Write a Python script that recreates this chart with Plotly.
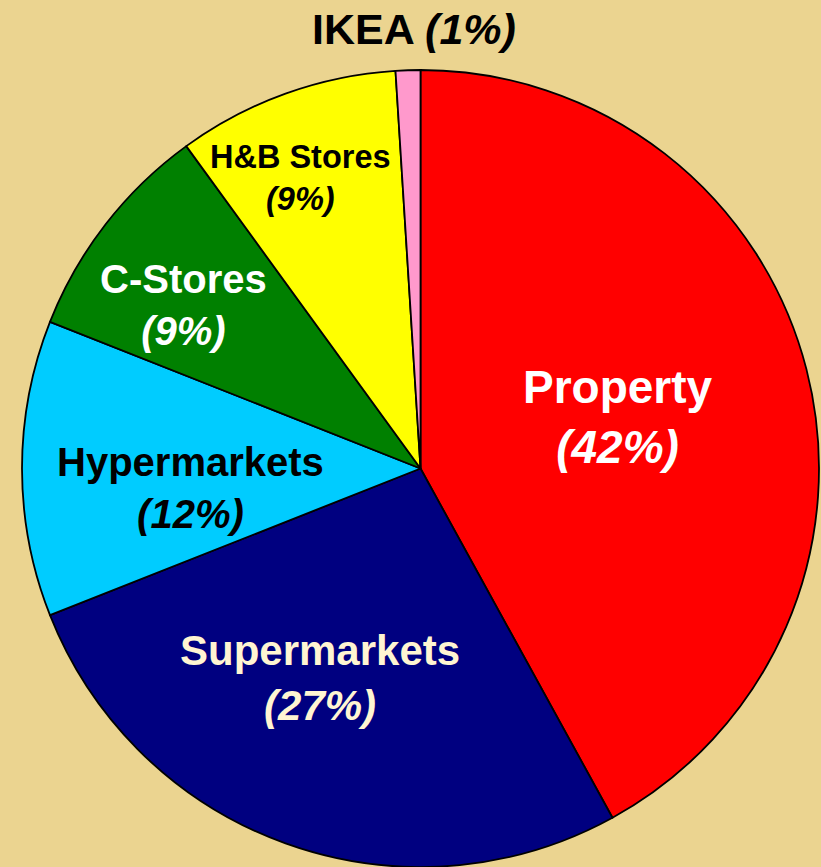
import plotly.graph_objects as go

labels = ["Property", "Supermarkets", "Hypermarkets", "C-Stores", "H&B Stores", "IKEA"]
values = [42, 27, 12, 9, 9, 1]
colors = ["#FF0000", "#000080", "#00CCFF", "#008000", "#FFFF00", "#FF99CC"]
text_colors = ["#FFFFFF", "#FFF5D2", "#000000", "#FFFFFF", "#000000", "#000000"]
font_sizes = [46, 42, 40, 40, 32.5, 43]
# label centres in pixels (x, y)
label_px = [(618, 417), (320, 678), (190, 488), (183, 305), (300, 178), (414, 29)]

W, H = 821, 867
L, R, T, B = 22, 2, 70, 0
pw, ph = W - L - R, H - T - B

fig = go.Figure(go.Pie(
    labels=labels, values=values, sort=False, direction="clockwise", rotation=0,
    marker=dict(colors=colors, line=dict(color="#000000", width=1.8)),
    textinfo="none", hoverinfo="label+percent", showlegend=False,
))

for lab, v, c, fs, (px, py) in zip(labels, values, text_colors, font_sizes, label_px):
    if lab == "IKEA":
        txt = f"<b>{lab} <i>({v}%)</i></b>"
    else:
        txt = f"<b>{lab}</b><br><b><i>({v}%)</i></b>"
    fig.add_annotation(
        x=(px - L) / pw, y=(H - B - py) / ph, xref="paper", yref="paper",
        text=txt, showarrow=False, xanchor="center", yanchor="middle",
        font=dict(family="Liberation Sans, Arial", size=fs, color=c),
    )

fig.update_layout(
    width=W, height=H, margin=dict(l=L, r=R, t=T, b=B, autoexpand=False),
    paper_bgcolor="#EBD490", plot_bgcolor="#EBD490",
)
fig.write_html("out.html")
